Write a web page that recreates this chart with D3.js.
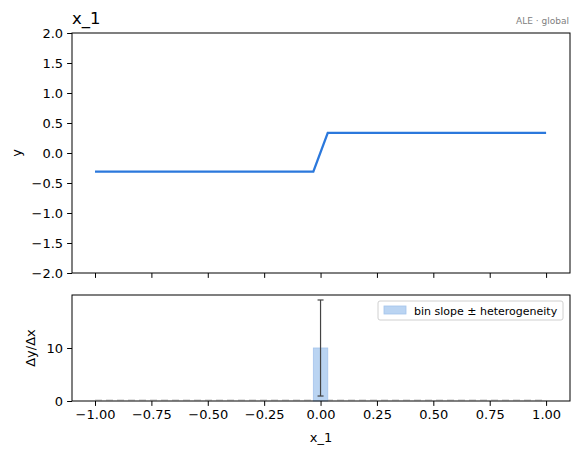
<!DOCTYPE html>
<html><head><meta charset="utf-8">
<script src="https://cdn.jsdelivr.net/npm/d3@7"></script>
<style>body{margin:0;background:#fff}svg{display:block;font-family:"DejaVu Sans",sans-serif}</style>
</head><body><svg id="c" width="578" height="454"></svg>
<script>
// ALE curve evaluated at bin edges
const gridX = [-1.000,-0.935,-0.871,-0.806,-0.742,-0.677,-0.613,-0.548,-0.484,-0.419,-0.355,-0.290,-0.226,-0.161,-0.097,-0.032,
               0.032,0.097,0.161,0.226,0.290,0.355,0.419,0.484,0.548,0.613,0.677,0.742,0.806,0.871,0.935,1.000];
const aleY = [-0.31,-0.31,-0.31,-0.31,-0.31,-0.31,-0.31,-0.31,-0.31,-0.31,-0.31,-0.31,-0.31,-0.31,-0.31,-0.31,
              0.335,0.335,0.335,0.335,0.335,0.335,0.335,0.335,0.335,0.335,0.335,0.335,0.335,0.335,0.335,0.335];
// per-bin slope and heterogeneity (31 bins)
const binSlope = [0,0,0,0,0,0,0,0,0,0,0,0,0,0,0,10.0,0,0,0,0,0,0,0,0,0,0,0,0,0,0,0];
const binHetero = [0,0,0,0,0,0,0,0,0,0,0,0,0,0,0,9.06,0,0,0,0,0,0,0,0,0,0,0,0,0,0,0];
const xTicks = [-1.00,-0.75,-0.50,-0.25,0.00,0.25,0.50,0.75,1.00];
const yTicksTop = [2.0,1.5,1.0,0.5,0.0,-0.5,-1.0,-1.5,-2.0];
const yTicksBot = [0,10];

const svg = d3.select("#c");
const L = 72, R = 570, T1 = 33, B1 = 273, T2 = 295, B2 = 401;
const x = d3.scaleLinear().domain([-1.102, 1.106]).range([L, R]);
const y1 = d3.scaleLinear().domain([-2, 2]).range([B1, T1]);
const y2 = d3.scaleLinear().domain([0, 20]).range([B2, T2]);
const fmtM = s => s.replace("-", "\u2212");
const fs = 13;

// top axes
const gT = svg.append("g");
gT.append("g").attr("transform", `translate(0,${B1})`)
  .call(d3.axisBottom(x).tickValues(xTicks).tickSize(4.9).tickFormat(""));
gT.append("g").attr("transform", `translate(${L},0)`)
  .call(d3.axisLeft(y1).tickValues(yTicksTop).tickSize(4.9).tickPadding(4).tickFormat(d => fmtM(d3.format(".1f")(d))));
gT.append("path")
  .datum(gridX.map((v, i) => [v, aleY[i]]))
  .attr("fill", "none").attr("stroke", "#2b78dc").attr("stroke-width", 2.3)
  .attr("d", d3.line().x(d => x(d[0])).y(d => y1(d[1])));
gT.append("rect").attr("x", L).attr("y", T1).attr("width", R - L).attr("height", B1 - T1)
  .attr("fill", "none").attr("stroke", "#000").attr("stroke-width", 1);

// bottom axes
const gB = svg.append("g");
const edgesL = gridX.slice(0, 31), edgesR = gridX.slice(1);
gB.append("line").attr("x1", x(-1)).attr("x2", x(1)).attr("y1", y2(0) - 1).attr("y2", y2(0) - 1)
  .attr("stroke", "#c4c4c4").attr("stroke-width", 1.2).attr("stroke-dasharray", "7,4");
gB.selectAll("rect.bar").data(binSlope).join("rect").attr("class", "bar")
  .attr("x", (d, i) => x(edgesL[i])).attr("width", (d, i) => x(edgesR[i]) - x(edgesL[i]))
  .attr("y", d => y2(d)).attr("height", d => y2(0) - y2(d))
  .attr("fill", "#bad4f2").attr("stroke", "#a4c4ec").attr("stroke-width", 0.8);
binSlope.forEach((d, i) => {
  if (binHetero[i] <= 0) return;
  const cx = x((edgesL[i] + edgesR[i]) / 2);
  const g = gB.append("g").attr("stroke", "#444").attr("stroke-width", 1.2);
  g.append("line").attr("x1", cx).attr("x2", cx).attr("y1", y2(d - binHetero[i])).attr("y2", y2(d + binHetero[i]));
  [d - binHetero[i], d + binHetero[i]].forEach(v =>
    g.append("line").attr("x1", cx - 3).attr("x2", cx + 3).attr("y1", y2(v)).attr("y2", y2(v)));
});
gB.append("g").attr("transform", `translate(0,${B2})`)
  .call(d3.axisBottom(x).tickValues(xTicks).tickSize(4.9).tickPadding(4).tickFormat(d => fmtM(d3.format(".2f")(d))));
gB.append("g").attr("transform", `translate(${L},0)`)
  .call(d3.axisLeft(y2).tickValues(yTicksBot).tickSize(4.9).tickPadding(4).tickFormat(d3.format("d")));
gB.append("rect").attr("x", L).attr("y", T2).attr("width", R - L).attr("height", B2 - T2)
  .attr("fill", "none").attr("stroke", "#000").attr("stroke-width", 1);

svg.selectAll(".domain").remove();
svg.selectAll(".tick line").attr("stroke", "#000").attr("stroke-width", 1);
svg.selectAll(".tick text").attr("font-size", fs).attr("fill", "#000").attr("font-family", "DejaVu Sans");

// legend
const lg = svg.append("g");
lg.append("rect").attr("x", 378).attr("y", 301).attr("width", 185).attr("height", 19).attr("rx", 2)
  .attr("fill", "#fff").attr("fill-opacity", 0.8).attr("stroke", "#d0d0d0");
lg.append("rect").attr("x", 384).attr("y", 306).attr("width", 22).attr("height", 8)
  .attr("fill", "#bad4f2").attr("stroke", "#a4c4ec").attr("stroke-width", 0.8);
lg.append("text").attr("x", 414).attr("y", 314.5).attr("font-size", 11).text("bin slope \u00b1 heterogeneity");

// texts
svg.append("text").attr("x", 72).attr("y", 24).attr("font-size", 16.5).text("x_1");
svg.append("text").attr("x", 569).attr("y", 24).attr("text-anchor", "end").attr("font-size", 9).attr("fill", "#808080").text("ALE \u00b7 global");
svg.append("text").attr("transform", `translate(21,${(T1 + B1) / 2}) rotate(-90)`).attr("text-anchor", "middle").attr("font-size", fs).text("y");
svg.append("text").attr("transform", `translate(35,${(T2 + B2) / 2}) rotate(-90)`).attr("text-anchor", "middle").attr("font-size", fs).text("\u0394y/\u0394x");
svg.append("text").attr("x", (L + R) / 2).attr("y", 442).attr("text-anchor", "middle").attr("font-size", fs).text("x_1");
</script></body></html>
